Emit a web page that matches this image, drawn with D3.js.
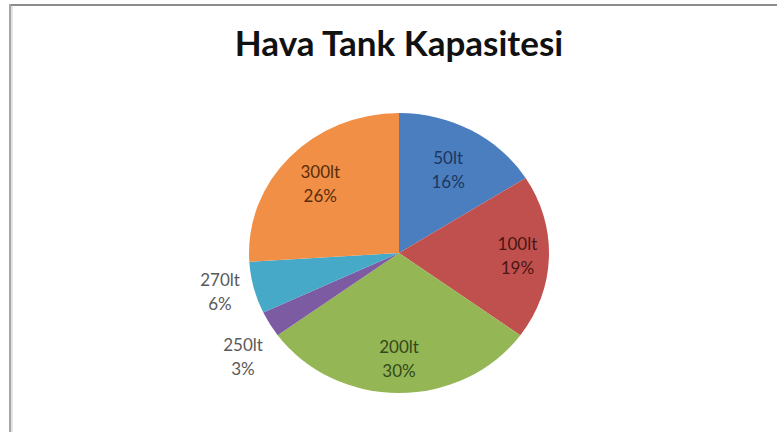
<!DOCTYPE html>
<html>
<head>
<meta charset="utf-8">
<script src="https://cdn.jsdelivr.net/npm/d3@7/dist/d3.min.js"></script>
<style>
  html, body { margin: 0; padding: 0; background: #fff; }
  svg { display: block; }
</style>
</head>
<body>
<svg id="chart" width="777" height="432"></svg>
<script>
// Tank capacity categories and their share (%)
const categories = ["50lt", "100lt", "200lt", "250lt", "270lt", "300lt"];
const shares = [16, 19, 30, 3, 6, 26];
const sliceColors = ["#4a7ebf", "#c0504d", "#94b655", "#7c5ba3", "#46a9c8", "#f08f45"];
const labelColors = ["#1e3560", "#4a1614", "#33481a", "#595959", "#595959", "#5a2c0a"];
const title = "Hava Tank Kapasitesi";

const svg = d3.select("#chart");
const W = 777, H = 432;

// frame lines (top and left edge)
svg.append("line").attr("x1", 9).attr("x2", W).attr("y1", 5).attr("y2", 5)
  .attr("stroke", "#8c8c8c").attr("stroke-width", 2);
svg.append("line").attr("x1", 10).attr("x2", 10).attr("y1", 4).attr("y2", H)
  .attr("stroke", "#a6a6a6").attr("stroke-width", 2);
svg.append("line").attr("x1", 12).attr("x2", 12).attr("y1", 6).attr("y2", H)
  .attr("stroke", "#e4e4e4").attr("stroke-width", 2);

svg.append("text")
  .attr("x", 399).attr("y", 56)
  .attr("text-anchor", "middle")
  .attr("font-family", "Lato, 'Open Sans', sans-serif")
  .attr("font-weight", "bold")
  .attr("font-size", 35)
  .attr("fill", "#111")
  .text(title);

const cx = 399, cy = 253, rx = 150, ry = 140;
const data = categories.map((c, i) => ({ name: c, value: shares[i], i }));
const pie = d3.pie().value(d => d.value).sort(null);
const arcs = pie(data);
const arc = d3.arc().innerRadius(0).outerRadius(ry);

const g = svg.append("g")
  .attr("transform", `translate(${cx},${cy}) scale(${rx / ry},1)`);
g.selectAll("path").data(arcs).join("path")
  .attr("d", arc)
  .attr("fill", d => sliceColors[d.data.i]);

// label anchor radius (fraction of radius); small slices are labelled outside
const inside = [0.68, 0.79, 0.76, null, null, 0.72];
const outsideOffset = { 3: [-156, 104], 4: [-179, 39] };

const labels = svg.append("g")
  .attr("font-family", "Lato, 'Open Sans', sans-serif")
  .attr("font-size", 17)
  .attr("text-anchor", "middle");

arcs.forEach(a => {
  const i = a.data.i;
  let x, y;
  if (inside[i] !== null) {
    const mid = (a.startAngle + a.endAngle) / 2;
    x = cx + Math.sin(mid) * rx * inside[i];
    y = cy - Math.cos(mid) * ry * inside[i];
  } else {
    x = cx + outsideOffset[i][0];
    y = cy + outsideOffset[i][1];
  }
  const t = labels.append("text").attr("fill", labelColors[i]);
  t.append("tspan").attr("x", x).attr("y", y - 6).text(a.data.name);
  t.append("tspan").attr("x", x).attr("y", y + 18).text(a.data.value + "%");
});
</script>
</body>
</html>
